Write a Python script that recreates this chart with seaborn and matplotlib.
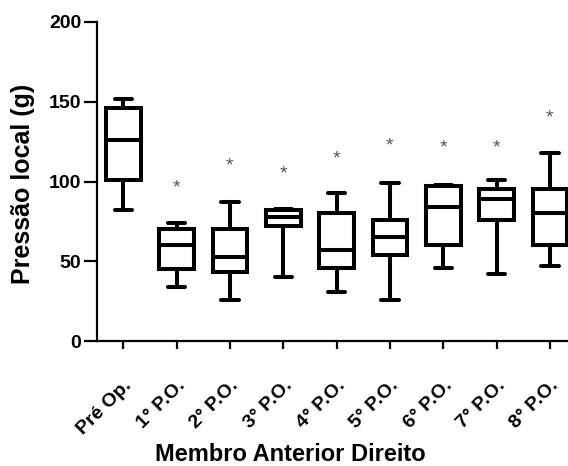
import numpy as np
import pandas as pd
import seaborn as sns
import matplotlib
matplotlib.use("Agg")
import matplotlib.pyplot as plt

# grupos e resumo de cinco números (mín, Q1, mediana, Q3, máx)
grupos = ["Pré Op.", "1° P.O.", "2° P.O.", "3° P.O.", "4° P.O.",
          "5° P.O.", "6° P.O.", "7° P.O.", "8° P.O."]
minimo = [82, 34, 26, 40, 31, 26, 46, 42, 47]
q1 = [101, 45, 43, 72, 46, 54, 60, 76, 60]
mediana = [126, 60, 53, 78, 57, 65, 84, 89, 80]
q3 = [146, 70, 70, 82, 80, 76, 97, 95, 95]
maximo = [152, 74, 87, 83, 93, 99, 98, 101, 118]
# altura dos asteriscos (diferença significativa vs Pré Op.)
asterisco = [None, 96, 110, 105, 114, 122, 121, 121, 140]

linhas = []
for i, g in enumerate(grupos):
    for v in (minimo[i], q1[i], mediana[i], q3[i], maximo[i]):
        linhas.append({"tempo": g, "pressao": v})
df = pd.DataFrame(linhas)

sns.set_style("ticks")
plt.rcParams["font.family"] = ["Liberation Sans", "DejaVu Sans"]
plt.rcParams["text.color"] = "black"
plt.rcParams["axes.labelcolor"] = "black"
plt.rcParams["xtick.color"] = "black"
plt.rcParams["ytick.color"] = "black"

fig = plt.figure(figsize=(5.68, 4.66), dpi=100)
ax = fig.add_axes([0.170, 0.268, 0.830, 0.685])

sns.boxplot(data=df, x="tempo", y="pressao", whis=(0, 100), width=0.65,
            color="white", linecolor="black", linewidth=2.9, fliersize=0,
            ax=ax)
for b in ax.patches:
    b.set_facecolor("white")

for i, h in enumerate(asterisco):
    if h is not None:
        ax.text(i, h, "*", ha="center", va="center", fontsize=14, color="#555555")

ax.set_ylim(0, 200)
ax.set_xlim(-0.5, 8.34)
ax.set_yticks([0, 50, 100, 150, 200])
sns.despine(ax=ax)
for s in ("left", "bottom"):
    ax.spines[s].set_linewidth(1.6)
    ax.spines[s].set_color("black")
ax.tick_params(axis="y", length=9.5, width=1.6, pad=1.5, labelsize=14)
ax.tick_params(axis="x", length=6, width=1.6, pad=20, labelsize=14)
for t in ax.get_yticklabels():
    t.set_fontweight("bold")
for t in ax.get_xticklabels():
    t.set_rotation(45)
    t.set_ha("right")
    t.set_rotation_mode("anchor")
    t.set_fontweight("bold")

ax.set_ylabel("Pressão local (g)", fontsize=18, fontweight="bold", va="center")
ax.yaxis.set_label_coords(-0.157, 0.492)
ax.set_xlabel("Membro Anterior Direito", fontsize=17, fontweight="bold", va="center")
ax.xaxis.set_label_coords(0.41, -0.354)

fig.savefig("out.png", dpi=100)
